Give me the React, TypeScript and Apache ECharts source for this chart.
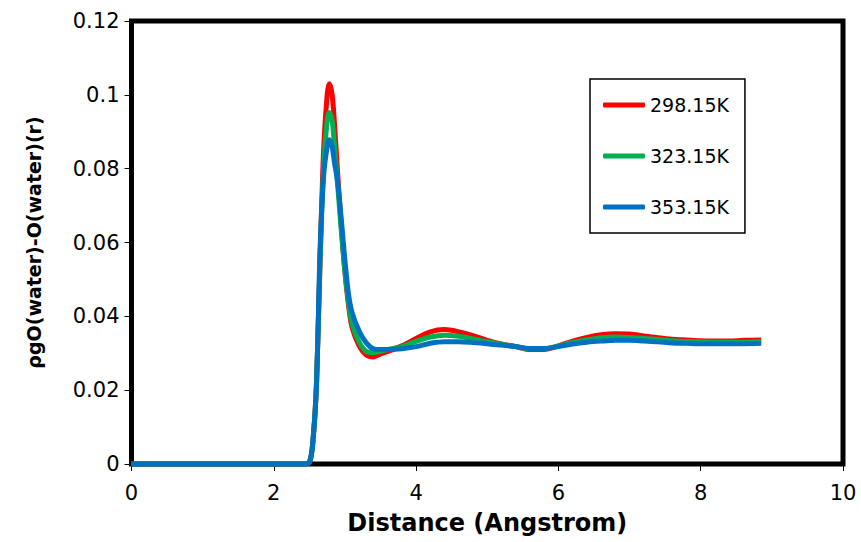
import React, { useEffect, useRef } from "react";
import * as echarts from "echarts";

const distance = [0, 2.4, 2.5, 2.55, 2.6, 2.65, 2.7, 2.75, 2.78, 2.82, 2.85, 2.9, 2.95, 3.0, 3.05, 3.1, 3.2, 3.3, 3.4, 3.5, 3.6, 3.8, 4.0, 4.2, 4.4, 4.6, 4.8, 5.0, 5.2, 5.4, 5.6, 5.8, 6.0, 6.2, 6.4, 6.6, 6.8, 7.0, 7.2, 7.4, 7.6, 7.8, 8.0, 8.2, 8.4, 8.6, 8.85];

const g298 = [0, 0, 0.0005, 0.006, 0.022, 0.055, 0.085, 0.1, 0.103, 0.1, 0.093, 0.078, 0.064, 0.052, 0.043, 0.037, 0.032, 0.0295, 0.029, 0.0298, 0.0305, 0.032, 0.034, 0.0358, 0.0364, 0.0358, 0.0348, 0.0335, 0.0325, 0.0318, 0.031, 0.031, 0.032, 0.0333, 0.0343, 0.035, 0.0353, 0.0352, 0.0347, 0.0342, 0.0338, 0.0336, 0.0334, 0.0333, 0.0333, 0.0335, 0.0336];

const g323 = [0, 0, 0.0005, 0.006, 0.022, 0.055, 0.08, 0.093, 0.0952, 0.093, 0.087, 0.075, 0.063, 0.052, 0.044, 0.038, 0.033, 0.0305, 0.0302, 0.0305, 0.031, 0.0318, 0.0332, 0.0344, 0.0349, 0.0346, 0.0339, 0.0331, 0.0324, 0.0318, 0.0312, 0.0312, 0.032, 0.0329, 0.0336, 0.0342, 0.0344, 0.0343, 0.034, 0.0337, 0.0334, 0.0332, 0.0331, 0.033, 0.033, 0.033, 0.0331];

const g353 = [0, 0, 0.0004, 0.0065, 0.021, 0.058, 0.078, 0.086, 0.0878, 0.086, 0.082, 0.076, 0.066, 0.055, 0.046, 0.041, 0.036, 0.0328, 0.0312, 0.031, 0.031, 0.0312, 0.0318, 0.0327, 0.0331, 0.0331, 0.0329, 0.0326, 0.0322, 0.0318, 0.0313, 0.0313, 0.0318, 0.0325, 0.033, 0.0333, 0.0335, 0.0335, 0.0333, 0.0331, 0.0328, 0.0327, 0.0326, 0.0326, 0.0326, 0.0326, 0.0327];

const seriesNames = ["298.15K", "323.15K", "353.15K"];
const seriesValues = [g298, g323, g353];
const seriesColors = ["#FF0000", "#00B050", "#0070C0"];

const xTicks = { min: 0, max: 10, interval: 2 };
const yTicks = { min: 0, max: 0.12, interval: 0.02 };

export default function App() {
  const ref = useRef<HTMLDivElement>(null);
  useEffect(() => {
    if (!ref.current) return;
    const chart = echarts.init(ref.current, null, { renderer: "svg" });
    const font = "DejaVu Sans";
    chart.setOption({
      animation: false,
      backgroundColor: "#fff",
      grid: {
        left: 131.5,
        right: 18,
        top: 21,
        bottom: 78,
        show: true,
        borderColor: "#000",
        borderWidth: 5,
        backgroundColor: "transparent",
      },
      legend: {
        orient: "vertical",
        left: 590,
        top: 79,
        data: seriesNames,
        icon: "roundRect",
        itemWidth: 42,
        itemHeight: 5,
        itemGap: 31,
        padding: [16, 16, 16, 13],
        borderColor: "#000",
        borderWidth: 1.5,
        textStyle: { fontFamily: font, fontSize: 19, color: "#000", lineHeight: 20 },
      },
      xAxis: {
        type: "value",
        min: xTicks.min,
        max: xTicks.max,
        interval: xTicks.interval,
        name: "Distance (Angstrom)",
        nameLocation: "middle",
        nameGap: 47,
        nameTextStyle: { fontFamily: font, fontSize: 24, fontWeight: "bold", color: "#000" },
        axisLine: { show: false },
        axisTick: { show: true, length: 7, lineStyle: { color: "#000", width: 1 } },
        axisLabel: { fontFamily: font, fontSize: 21, color: "#000", margin: 18 },
        splitLine: { show: false },
      },
      yAxis: {
        type: "value",
        min: yTicks.min,
        max: yTicks.max,
        interval: yTicks.interval,
        name: "ρgO(water)-O(water)(r)",
        nameLocation: "middle",
        nameGap: 88,
        nameTextStyle: { fontFamily: font, fontSize: 19, fontWeight: "bold", color: "#000" },
        axisLine: { show: false },
        axisTick: { show: true, length: 7, lineStyle: { color: "#000", width: 1 } },
        axisLabel: { fontFamily: font, fontSize: 21, color: "#000", margin: 12 },
        splitLine: { show: false },
      },
      series: seriesNames.map((name, i) => ({
        name,
        type: "line",
        data: distance.map((d, j) => [d, seriesValues[i][j]]),
        symbol: "none",
        smooth: 0.3,
        clip: false,
        color: seriesColors[i],
        lineStyle: { width: 5, color: seriesColors[i] },
      })),
    });
    return () => chart.dispose();
  }, []);
  return <div ref={ref} style={{ position: "fixed", left: 0, top: 0, width: 861, height: 542 }} />;
}
